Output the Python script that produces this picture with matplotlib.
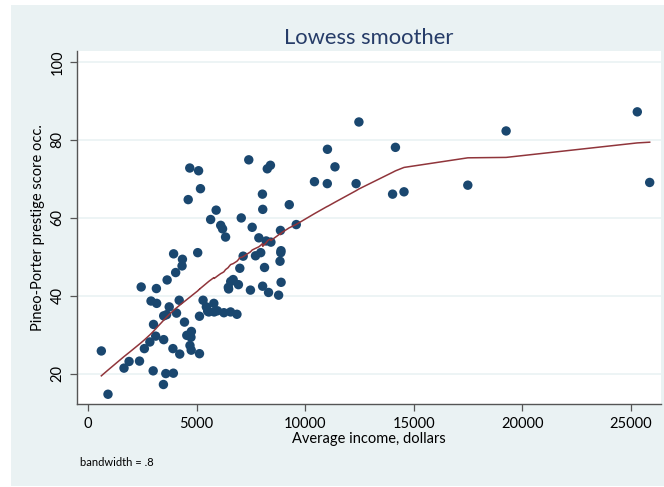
import numpy as np
import matplotlib
matplotlib.use('Agg')
import matplotlib.pyplot as plt
from matplotlib.patches import Rectangle

# Prestige data: average income (dollars) and Pineo-Porter prestige score
income = [12351, 25879, 9271, 8865, 8403, 11030, 8258, 14163, 11377, 11023,
          5902, 7059, 8425, 8049, 7405, 6336, 19263, 6112, 9593, 4686,
          12480, 5648, 8034, 25308, 14558, 17498, 4614, 3485, 5092, 10432,
          5180, 6197, 7562, 8206, 4036, 3148, 4348, 2448, 4330, 4761,
          3016, 2901, 5511, 3739, 3161, 4741, 5052, 6259, 4075, 7482,
          8780, 2594, 918, 2370, 8131, 6992, 7956, 8895, 8891, 3116,
          3930, 7869, 611, 3000, 3472, 3582, 3643, 1656, 6860, 4199,
          5134, 5134, 1890, 4443, 3485, 8043, 6686, 6565, 6477, 5811,
          6573, 3942, 5449, 2847, 5795, 7716, 4696, 8316, 7147, 8880,
          5299, 5959, 4549, 6928, 3910, 14032, 8845, 5562, 4224, 4753,
          6462, 3617]
prestige = [68.8, 69.1, 63.4, 56.8, 73.5, 77.6, 72.6, 78.1, 73.1, 68.8,
            62.0, 60.0, 53.8, 62.2, 74.9, 55.1, 82.3, 58.1, 58.3, 72.8,
            84.6, 59.6, 66.1, 87.2, 66.7, 68.4, 64.7, 34.9, 72.1, 69.3,
            67.5, 57.2, 57.6, 54.1, 46.0, 41.9, 49.4, 42.3, 47.7, 30.9,
            32.7, 38.7, 36.1, 37.2, 38.1, 29.4, 51.1, 35.7, 35.6, 41.5,
            40.2, 26.5, 14.8, 23.3, 47.3, 47.1, 51.1, 43.5, 51.6, 29.7,
            20.2, 54.9, 25.9, 20.8, 17.3, 20.1, 44.1, 21.5, 35.3, 38.9,
            25.2, 34.8, 23.2, 33.3, 28.8, 42.5, 44.2, 35.9, 41.8, 35.9,
            43.7, 50.8, 37.2, 28.2, 38.1, 50.3, 27.3, 40.9, 50.2, 51.1,
            38.9, 36.2, 29.9, 42.9, 26.5, 66.1, 48.9, 35.9, 25.1, 26.1,
            42.2, 35.2]

bwidth = 0.8
xticks = [0, 5000, 10000, 15000, 20000, 25000]
yticks = [20, 40, 60, 80, 100]

BG = '#EAF2F3'
NAVY = '#1A476F'
MAROON = '#90353B'


def lowess(x, y, bw):
    # running-line smoother with tricube weights (no robustness steps)
    order = np.argsort(x, kind='stable')
    xs = np.asarray(x, float)[order]
    ys = np.asarray(y, float)[order]
    n = len(xs)
    k = int(np.floor((n * bw - 0.5) / 2))
    fit = np.empty(n)
    for i in range(n):
        lo, hi = max(0, i - k), min(n - 1, i + k)
        xw, yw = xs[lo:hi + 1], ys[lo:hi + 1]
        delta = 1.0001 * max(xs[hi] - xs[i], xs[i] - xs[lo])
        w = (1 - (np.abs(xw - xs[i]) / delta) ** 3) ** 3
        xm = np.sum(w * xw) / np.sum(w)
        ym = np.sum(w * yw) / np.sum(w)
        sxx = np.sum(w * (xw - xm) ** 2)
        b = np.sum(w * (xw - xm) * (yw - ym)) / sxx if sxx > 0 else 0.0
        fit[i] = ym + b * (xs[i] - xm)
    return xs, fit


plt.rcParams['font.family'] = ['Lato', 'DejaVu Sans']

fig = plt.figure(figsize=(6.64, 4.87), dpi=100)
fig.patch.set_facecolor('white')
fig.add_artist(Rectangle((11 / 664, 1 / 487), 653 / 664, 481 / 487,
                         transform=fig.transFigure, facecolor=BG,
                         edgecolor='none', zorder=-5))

ax = fig.add_axes([77 / 664, 1 - 404 / 487, 584 / 664, 353 / 487])
ax.set_facecolor('white')

for t in yticks:
    ax.axhline(t, color=BG, lw=1.2, zorder=1)

ax.scatter(income, prestige, s=46, color=NAVY, edgecolors='none', zorder=3)
xs, fit = lowess(income, prestige, bwidth)
ax.plot(xs, fit, color=MAROON, lw=1.1, zorder=4)

ax.set_xlim(-510, 26400)
ax.set_ylim(12.3, 102.8)
ax.set_xticks(xticks)
ax.set_yticks(yticks)
ax.set_xticklabels([str(t) for t in xticks], fontsize=10.5)
ax.set_yticklabels([str(t) for t in yticks], fontsize=10.5, rotation=90,
                   va='center')

for s in ['top', 'right']:
    ax.spines[s].set_visible(False)
for s in ['left', 'bottom']:
    ax.spines[s].set_color('#555555')
    ax.spines[s].set_linewidth(1.0)
ax.tick_params(color='#555555', length=5, width=0.9, pad=4,
               labelcolor='black')

ax.set_title('Lowess smoother', fontsize=15.8, color='#263C68', pad=5)
ax.set_xlabel('Average income, dollars', fontsize=10.5, labelpad=1)
ax.set_ylabel('Pineo-Porter prestige score occ.', fontsize=10.5, labelpad=4)
fig.text(80 / 664, 1 - 463 / 487, 'bandwidth = .8', fontsize=8,
         va='center', ha='left')

fig.savefig('out.png', dpi=100, facecolor=fig.get_facecolor())
